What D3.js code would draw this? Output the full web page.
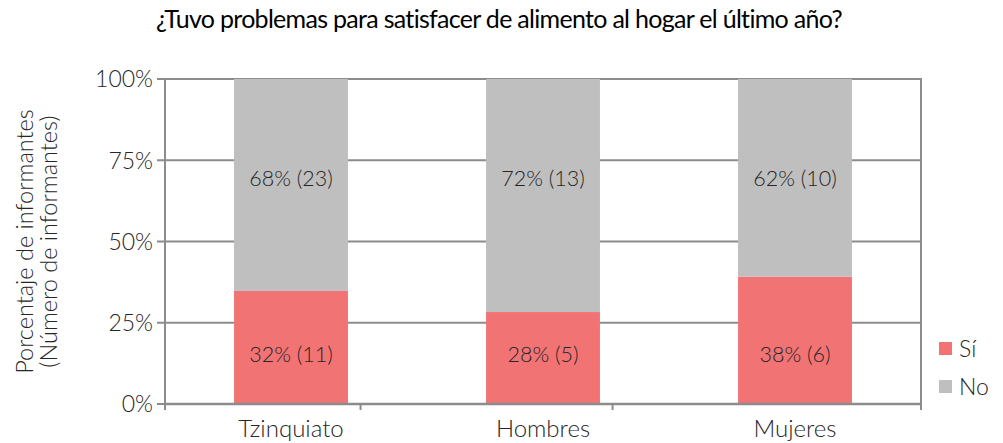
<html lang="es">
<head>
    <meta charset="UTF-8">
    <title>Alimento</title>
    <style>
        body { margin: 0; background: #fff; }
        text { font-family: Lato, "Open Sans", sans-serif; }
    </style>
</head>
<body>
    <script src="https://d3js.org/d3.v7.min.js"></script>
    <script>
      // datos
      let grupos = ["Tzinquiato", "Hombres", "Mujeres"]
      let si = [34.8, 28.3, 39.2]      // altura de la barra roja (%)
      let etiquetasSi = ["32% (11)", "28% (5)", "38% (6)"]
      let etiquetasNo = ["68% (23)", "72% (13)", "62% (10)"]
      let ticksY = [0, 25, 50, 75, 100]
      let series = ["Sí", "No"]
      let colores = ["#f27374", "#bfbfbf"]

      let width = 1003
      let height = 443
      let margin = {top: 79, right: 82, bottom: 39, left: 165}

      let svg = d3.select("body")
                  .append("svg")
                  .attr("width", width)
                  .attr("height", height)

      let x = d3.scaleBand()
                .domain(grupos)
                .range([margin.left, width - margin.right])
                .paddingInner(0.548)
                .paddingOuter(0.274)
      let y = d3.scaleLinear()
                .domain([0, 100])
                .range([height - margin.bottom, margin.top])

      let gris = "#8c8c8c"
      let texto = "#262626"

      // lineas de cuadricula
      svg.append("g")
         .selectAll("line")
         .data(ticksY)
         .enter()
         .append("line")
         .attr("x1", margin.left - 8)
         .attr("x2", width - margin.right)
         .attr("y1", d => y(d))
         .attr("y2", d => y(d))
         .attr("stroke", gris)
         .attr("stroke-width", 2)

      let tabla = grupos.map((g, i) => ({grupo: g, "Sí": si[i], "No": 100 - si[i]}))
      let stack = d3.stack().keys(series)(tabla)

      svg.append("g")
         .selectAll("g")
         .data(stack)
         .enter()
         .append("g")
         .attr("fill", (d, i) => colores[i])
         .selectAll("rect")
         .data(d => d)
         .enter()
         .append("rect")
         .attr("x", d => x(d.data.grupo))
         .attr("width", x.bandwidth())
         .attr("y", d => y(d[1]))
         .attr("height", d => y(d[0]) - y(d[1]))

      // ejes
      svg.append("line")
         .attr("x1", margin.left).attr("x2", margin.left)
         .attr("y1", y(100) - 1).attr("y2", y(0) + 6)
         .attr("stroke", gris).attr("stroke-width", 2)
      svg.append("line")
         .attr("x1", width - margin.right).attr("x2", width - margin.right)
         .attr("y1", y(100) - 1).attr("y2", y(0) + 6)
         .attr("stroke", gris).attr("stroke-width", 2)
      svg.append("line")
         .attr("x1", margin.left).attr("x2", width - margin.right)
         .attr("y1", y(0)).attr("y2", y(0))
         .attr("stroke", gris).attr("stroke-width", 2.5)

      // marcas entre categorias
      let paso = x.step()
      svg.append("g")
         .selectAll("line")
         .data(grupos.slice(1))
         .enter()
         .append("line")
         .attr("x1", d => x(d) - x.bandwidth() * 0.5 - paso * 0.274 + 0.5)
         .attr("x2", d => x(d) - x.bandwidth() * 0.5 - paso * 0.274 + 0.5)
         .attr("y1", y(0))
         .attr("y2", y(0) + 6)
         .attr("stroke", gris)
         .attr("stroke-width", 2)

      // etiquetas eje Y
      svg.append("g")
         .selectAll("text")
         .data(ticksY)
         .enter()
         .append("text")
         .attr("x", margin.left - 12)
         .attr("y", d => y(d))
         .attr("dy", "0.36em")
         .attr("text-anchor", "end")
         .attr("font-size", 23)
         .attr("font-weight", 300)
         .attr("fill", texto)
         .text(d => d + "%")

      // etiquetas eje X
      svg.append("g")
         .selectAll("text")
         .data(grupos)
         .enter()
         .append("text")
         .attr("x", d => x(d) + x.bandwidth() / 2)
         .attr("y", y(0) + 33)
         .attr("text-anchor", "middle")
         .attr("font-size", 24)
         .attr("font-weight", 300)
         .attr("fill", texto)
         .text(d => d)

      // etiquetas de datos
      svg.append("g")
         .selectAll("text")
         .data(grupos)
         .enter()
         .append("text")
         .attr("x", d => x(d) + x.bandwidth() / 2)
         .attr("y", y(69.5))
         .attr("dy", "0.36em")
         .attr("text-anchor", "middle")
         .attr("font-size", 21.5)
         .attr("font-weight", 300)
         .attr("fill", texto)
         .text((d, i) => etiquetasNo[i])
      svg.append("g")
         .selectAll("text")
         .data(grupos)
         .enter()
         .append("text")
         .attr("x", d => x(d) + x.bandwidth() / 2)
         .attr("y", y(15.4))
         .attr("dy", "0.36em")
         .attr("text-anchor", "middle")
         .attr("font-size", 21.5)
         .attr("font-weight", 300)
         .attr("fill", texto)
         .text((d, i) => etiquetasSi[i])

      // titulo
      svg.append("text")
         .attr("x", 499)
         .attr("y", 28)
         .attr("text-anchor", "middle")
         .attr("font-size", 25)
         .attr("font-weight", 400)
         .attr("letter-spacing", -0.7)
         .attr("fill", "#000")
         .text("¿Tuvo problemas para satisfacer de alimento al hogar el último año?")

      // titulo eje Y
      let ty = svg.append("text")
         .attr("transform", "translate(36," + y(50) + ") rotate(-90)")
         .attr("text-anchor", "middle")
         .attr("font-size", 23.5)
         .attr("font-weight", 300)
         .attr("fill", texto)
      ty.append("tspan").attr("x", 0).attr("dy", "-0.12em").text("Porcentaje de informantes")
      ty.append("tspan").attr("x", 0).attr("dy", "1.0em").text("(Número de informantes)")

      // leyenda
      let leyenda = svg.append("g")
         .selectAll("g")
         .data(series)
         .enter()
         .append("g")
         .attr("transform", (d, i) => "translate(939," + (342 + i * 38) + ")")
      leyenda.append("rect")
         .attr("width", 13).attr("height", 13)
         .attr("fill", (d, i) => colores[i])
      leyenda.append("text")
         .attr("x", 20)
         .attr("y", 7)
         .attr("dy", "0.36em")
         .attr("font-size", 23)
         .attr("font-weight", 300)
         .attr("fill", texto)
         .text(d => d)
    </script>
</body>
</html>
